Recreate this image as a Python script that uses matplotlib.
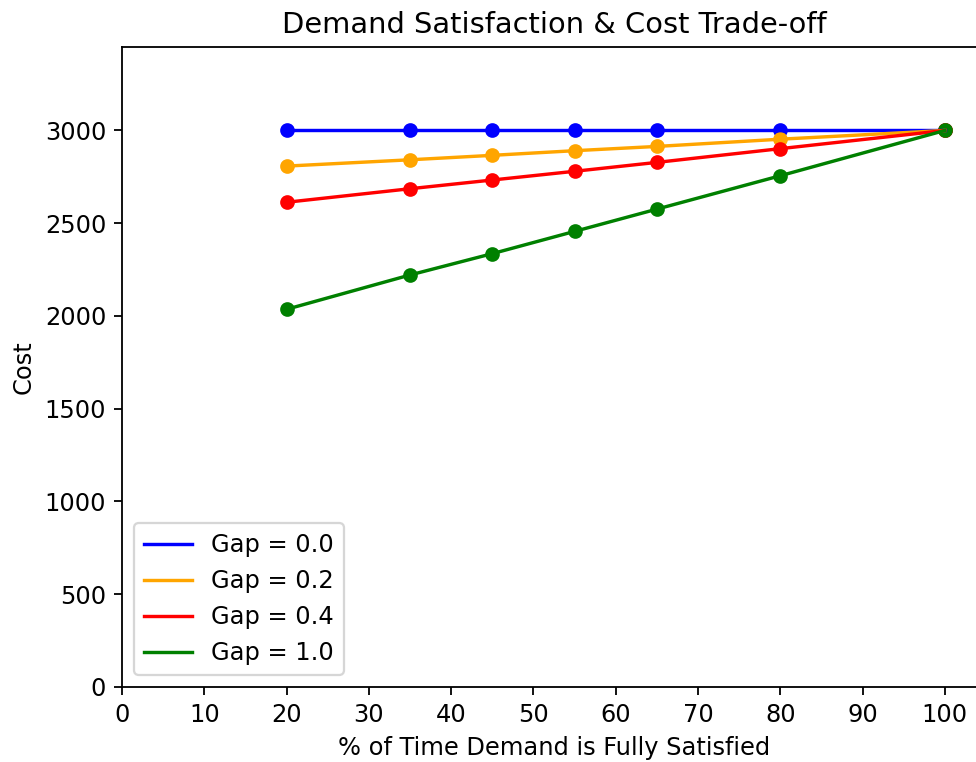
import matplotlib
matplotlib.use("Agg")
import matplotlib.pyplot as plt

# % of time demand is fully satisfied
satisfied_pct = [20, 35, 45, 55, 65, 80, 100]

gap_labels = ["Gap = 0.0", "Gap = 0.2", "Gap = 0.4", "Gap = 1.0"]
gap_colors = ["blue", "orange", "red", "green"]

cost_gap_00 = [3000, 3000, 3000, 3000, 3000, 3000, 3000]
cost_gap_02 = [2808, 2842, 2866, 2891, 2914, 2953, 3000]
cost_gap_04 = [2613, 2686, 2733, 2780, 2828, 2902, 3000]
cost_gap_10 = [2036, 2221, 2336, 2456, 2576, 2756, 3000]

costs = [cost_gap_00, cost_gap_02, cost_gap_04, cost_gap_10]

plt.rcParams["font.size"] = 10.65

dpi = 163
fig = plt.figure(figsize=(977 / dpi, 762 / dpi), dpi=dpi)
ax = fig.add_axes([122 / 977, 1 - 687 / 762, (986 - 122) / 977, (687 - 47) / 762])

for cost, label, color in zip(costs, gap_labels, gap_colors):
    ax.plot(satisfied_pct, cost, color=color, label=label)
    ax.scatter(satisfied_pct, cost, color=color, s=30)

ax.set_xlim(0, 105)
ax.set_ylim(0, 3450)
ax.set_xticks(range(0, 101, 10))
ax.set_xlabel("% of Time Demand is Fully Satisfied")
ax.set_ylabel("Cost")
ax.set_title("Demand Satisfaction & Cost Trade-off")
ax.legend(loc="lower left")

fig.savefig("out.png", dpi=dpi)
